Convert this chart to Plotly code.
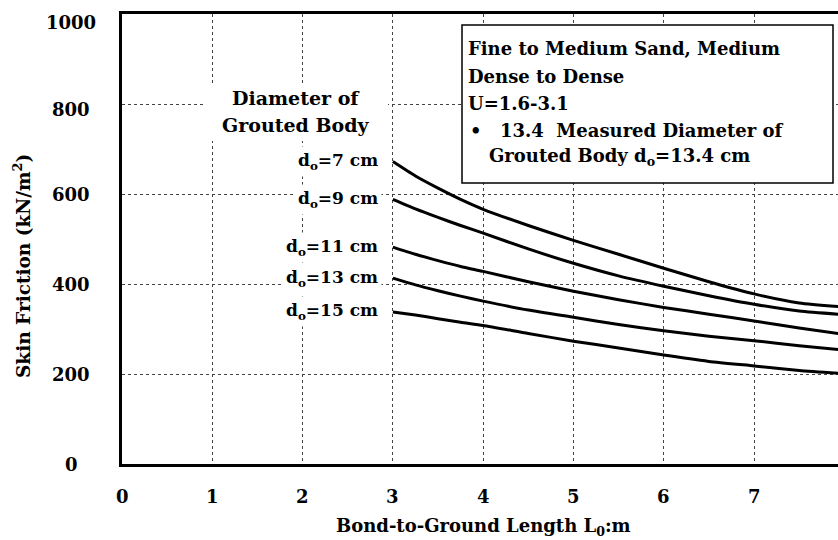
import plotly.graph_objects as go

# ---- data ----
L = [3.0, 3.25, 3.5, 3.75, 4.0, 4.5, 5.0, 5.5, 6.0, 6.5, 7.0, 7.5, 8.0]
d7 = [672, 640, 613, 588, 566, 530, 497, 466, 435, 405, 378, 358, 349]
d9 = [588, 567, 548, 530, 513, 478, 446, 418, 395, 374, 355, 340, 332]
d11 = [482, 466, 452, 439, 428, 405, 384, 365, 348, 333, 318, 302, 288]
d13 = [413, 398, 385, 373, 362, 342, 326, 310, 296, 284, 274, 263, 253]
d15 = [338, 331, 323, 315, 308, 290, 273, 258, 242, 228, 218, 208, 201]
series = [("7", d7), ("9", d9), ("11", d11), ("13", d13), ("15", d15)]

x_ticks = [0, 1, 2, 3, 4, 5, 6, 7, 8]
y_ticks = [0, 200, 400, 600, 800, 1000]
XMAX = 7.93
YMAX = 1000

legend_lines = [
    "Fine to Medium Sand, Medium",
    "Dense to Dense",
    "U=1.6-3.1",
]
bullet_line = "13.4\u00a0\u00a0Measured Diameter of"
bullet_line2 = "Grouted Body d<sub>o</sub>=13.4 cm"

FONT = "DejaVu Serif"
FS = 17
FL = 18

# pixel helpers for paper coordinates (plot area: x 122..838, y 14..464)
def px(x):
    return (x - 122) / 716

def py(y):
    return (464 - y) / 450

fig = go.Figure()
for name, vals in series:
    fig.add_trace(go.Scatter(x=L, y=vals, mode="lines",
                             line=dict(color="black", width=3, shape="spline", smoothing=0.6),
                             name=f"d={name} cm", showlegend=False, hoverinfo="skip"))

annotations = []
# curve labels
for name, vals in series:
    annotations.append(dict(x=2.88, y=vals[0], xref="x", yref="y", xanchor="right", yanchor="middle",
                            text=f"<b>d<sub>o</sub>={name} cm</b>", showarrow=False, bgcolor="white",
                            font=dict(family=FONT, size=FS, color="black"), borderpad=3))
# diameter header
annotations.append(dict(x=px(296), y=py(98), xref="paper", yref="paper", xanchor="center", yanchor="middle",
                        text="<b>Diameter of</b>", showarrow=False, font=dict(family=FONT, size=19, color="black")))
annotations.append(dict(x=px(296), y=py(125), xref="paper", yref="paper", xanchor="center", yanchor="middle",
                        text="<b>Grouted Body</b>", showarrow=False, font=dict(family=FONT, size=19, color="black")))

# legend box text
for t, yy in zip(legend_lines, [48, 76, 103]):
    annotations.append(dict(x=px(466), y=py(yy), xref="paper", yref="paper",
                            xanchor="left", yanchor="middle", text=f"<b>{t}</b>", showarrow=False,
                            font=dict(family=FONT, size=FL, color="black")))
annotations.append(dict(x=px(468), y=py(130), xref="paper", yref="paper",
                        xanchor="left", yanchor="middle", text="<b>\u2022</b>", showarrow=False,
                        font=dict(family=FONT, size=FL, color="black")))
annotations.append(dict(x=px(498), y=py(130), xref="paper", yref="paper",
                        xanchor="left", yanchor="middle", text=f"<b>{bullet_line}</b>", showarrow=False,
                        font=dict(family=FONT, size=FL, color="black")))
annotations.append(dict(x=px(487), y=py(157), xref="paper", yref="paper",
                        xanchor="left", yanchor="middle", text=f"<b>{bullet_line2}</b>", showarrow=False,
                        font=dict(family=FONT, size=FL, color="black")))

# y tick labels (centered)
for v in y_ticks:
    shift = -8 if v == 1000 else (-5 if v == 800 else 0)
    annotations.append(dict(x=px(71), y=v, xref="paper", yref="y", xanchor="center", yanchor="middle",
                            yshift=shift, text=f"<b>{v}</b>", showarrow=False,
                            font=dict(family=FONT, size=18, color="black")))
# x tick labels
for v in x_ticks:
    annotations.append(dict(x=v / XMAX, y=py(496), xref="paper", yref="paper", xanchor="center",
                            yanchor="middle", text=f"<b>{v}</b>", showarrow=False,
                            font=dict(family=FONT, size=18, color="black")))
# axis titles
annotations.append(dict(x=px(483), y=py(527), xref="paper", yref="paper",
                        xanchor="center", yanchor="middle",
                        text="<b>Bond-to-Ground Length L<sub>0</sub>:m</b>", showarrow=False,
                        font=dict(family=FONT, size=18, color="black")))
annotations.append(dict(x=px(22), y=py(266), xref="paper", yref="paper",
                        xanchor="center", yanchor="middle", textangle=-90,
                        text="<b>Skin Friction (kN/m<sup>2</sup>)</b>", showarrow=False,
                        font=dict(family=FONT, size=18.5, color="black")))

shapes = [
    # white box behind "Diameter of Grouted Body"
    dict(type="rect", xref="paper", yref="paper", x0=px(205), x1=px(388),
         y0=py(141), y1=py(83), fillcolor="white", line=dict(width=0), layer="above"),
    # legend box
    dict(type="rect", xref="paper", yref="paper", x0=px(462), x1=px(833),
         y0=py(183), y1=py(25), fillcolor="white",
         line=dict(color="black", width=1.5), layer="above"),
]

fig.update_layout(
    width=838, height=540,
    margin=dict(l=122, r=0, t=14, b=76),
    plot_bgcolor="white", paper_bgcolor="white",
    annotations=annotations, shapes=shapes,
    xaxis=dict(range=[0, XMAX], tickvals=x_ticks, showticklabels=False, showgrid=True,
               gridcolor="#444", griddash="dot", gridwidth=1, zeroline=False,
               showline=True, linecolor="black", linewidth=3, mirror=True, ticks=""),
    yaxis=dict(range=[0, YMAX], tickvals=y_ticks, showticklabels=False, showgrid=True,
               gridcolor="#444", griddash="dot", gridwidth=1, zeroline=False,
               showline=True, linecolor="black", linewidth=3, mirror=False, ticks=""),
)

fig.write_html("out.html")
